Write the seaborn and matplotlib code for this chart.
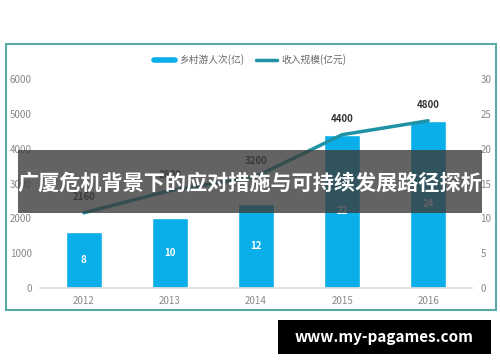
import seaborn as sns
import pandas as pd
import matplotlib.pyplot as plt
from matplotlib.patches import Rectangle
from matplotlib.lines import Line2D

years = ["2012", "2013", "2014", "2015", "2016"]
visitors = [8, 10, 12, 22, 24]          # 乡村游人次(亿), right axis
income = [2160, 2800, 3200, 4400, 4800]  # 收入规模(亿元), left axis

sns.set_theme(style="white")
plt.rcParams['font.family'] = ['Noto Sans CJK SC', 'DejaVu Sans']

bar_color = "#0aaee8"
line_color = "#1f92a3"
grey = "#888888"

df = pd.DataFrame({"year": years, "visitors": visitors, "income": income})

fig = plt.figure(figsize=(5, 3.62), dpi=100)
ax = fig.add_axes([0.08, 0.204, 0.864, 0.578])

# bars on the right-hand scale
sns.barplot(data=df, x="year", y="visitors", color=bar_color, width=0.41,
            saturation=1, ax=ax)
ax.set_ylim(0, 30)
ax.set_xlim(-0.51, 4.51)
ax.bar_label(ax.containers[0], label_type="center", color="white",
             fontsize=7, fontweight="bold")
ax.set_yticks([0, 5, 10, 15, 20, 25, 30])

# line on the left-hand scale
ax2 = ax.twinx()
sns.lineplot(data=df, x="year", y="income", color=line_color, linewidth=2.5,
             ax=ax2)
ax2.set_ylim(0, 6000)
ax2.set_yticks(range(0, 6001, 1000))
for i, v in enumerate(income):
    ax2.annotate(str(v), (i, v), xytext=(0, 9), textcoords="offset points",
                 ha="center", fontsize=7, fontweight="bold", color="#333333")

# swap sides: bars scale on the right, line scale on the left
ax.yaxis.tick_right()
ax2.yaxis.tick_left()

for a in (ax, ax2):
    a.set_xlabel("")
    a.set_ylabel("")
    for s in a.spines.values():
        s.set_visible(False)
    a.tick_params(axis="both", length=0, labelsize=7, colors=grey, pad=6)
    a.grid(False)
ax.spines["bottom"].set_visible(True)
ax.spines["bottom"].set_color("#dddddd")

# legend
handles = [Line2D([], [], color=bar_color, linewidth=4),
           Line2D([], [], color=line_color, linewidth=2.5)]
fig.legend(handles, ["乡村游人次(亿)", "收入规模(亿元)"], loc="center",
           bbox_to_anchor=(0.5, 0.835), ncol=2, frameon=False, fontsize=7,
           labelcolor="#666666", handlelength=2.2, columnspacing=1.2,
           handletextpad=0.4)

# outer frame
fig.patches.append(Rectangle((0.012, 0.1436), 0.98, 0.735, transform=fig.transFigure,
                             fill=False, edgecolor="#5aaaa8", linewidth=1.5))

# banner overlay
fig.patches.append(Rectangle((0.036, 0.4116), 0.928, 0.174, transform=fig.transFigure,
                             facecolor="#3c3c3c", alpha=0.8, edgecolor="none", zorder=5))
fig.text(0.5, 0.4945, "广厦危机背景下的应对措施与可持续发展路径探析", ha="center",
         va="center", color="white", fontsize=15.2, fontweight="bold", zorder=6)

# watermark
fig.patches.append(Rectangle((0.556, 0.022), 0.426, 0.094, transform=fig.transFigure,
                             facecolor="black", edgecolor="none", zorder=5))
fig.text(0.769, 0.069, "www.my-pagames.com", ha="center", va="center",
         color="white", fontsize=11, fontweight="bold", zorder=6)

plt.savefig("out.png", dpi=100)
